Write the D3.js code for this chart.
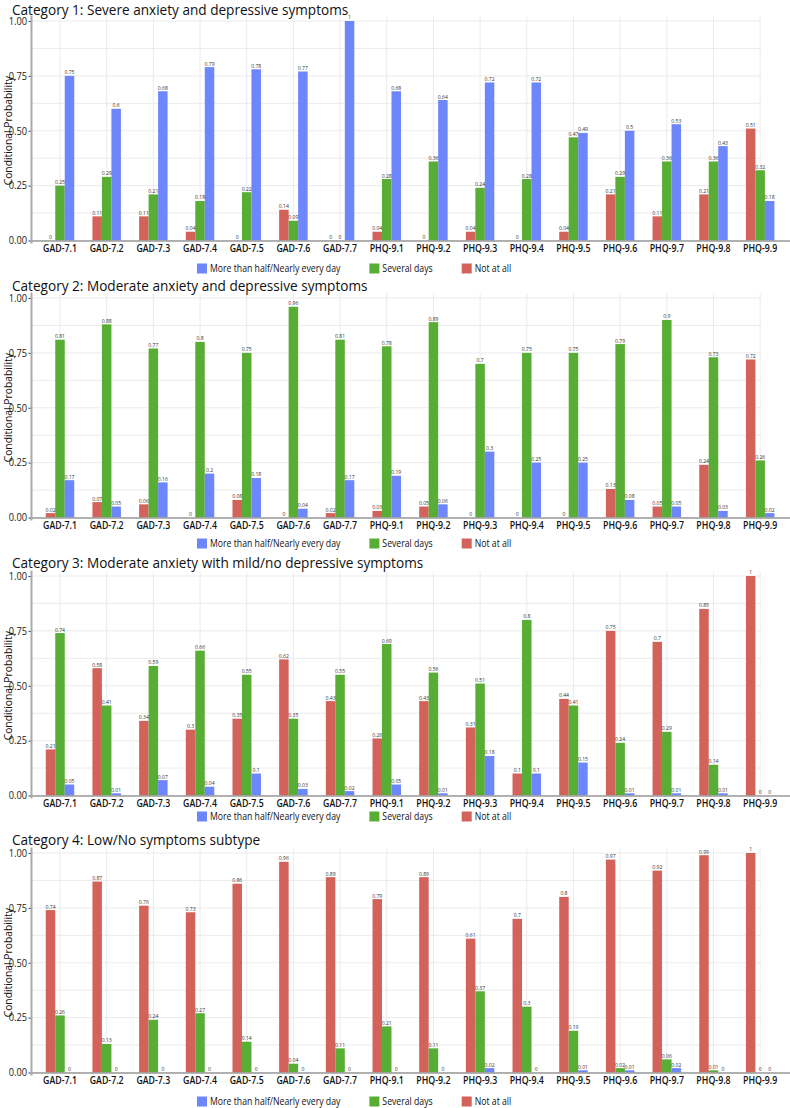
<!DOCTYPE html>
<html>
<head>
<meta charset="utf-8">
<script src="https://cdn.jsdelivr.net/npm/d3@7"></script>
<style>
  body { margin: 0; background: #ffffff; }
  svg { display: block; }
</style>
</head>
<body>
<svg id="chart" width="790" height="1108"></svg>
<script>
// ---------------- data ----------------
const items = ["GAD-7.1","GAD-7.2","GAD-7.3","GAD-7.4","GAD-7.5","GAD-7.6","GAD-7.7",
  "PHQ-9.1","PHQ-9.2","PHQ-9.3","PHQ-9.4","PHQ-9.5","PHQ-9.6","PHQ-9.7","PHQ-9.8","PHQ-9.9"];
const responses = ["Not at all","Several days","More than half/Nearly every day"];
const legendOrder = ["More than half/Nearly every day","Several days","Not at all"];
const panelTitles = [
  "Category 1: Severe anxiety and depressive symptoms",
  "Category 2: Moderate anxiety and depressive symptoms",
  "Category 3: Moderate anxiety with mild/no depressive symptoms",
  "Category 4: Low/No symptoms subtype"
];
const yTicks = [0, 0.25, 0.5, 0.75, 1];
const yMinorTicks = [0.125, 0.375, 0.625, 0.875];
const yTitle = "Conditional Probability";

const cat1NotAtAll     = [0, 0.11, 0.11, 0.04, 0, 0.14, 0, 0.04, 0, 0.04, 0, 0.04, 0.21, 0.11, 0.21, 0.51];
const cat1Several      = [0.25, 0.29, 0.21, 0.18, 0.22, 0.09, 0, 0.28, 0.36, 0.24, 0.28, 0.47, 0.29, 0.36, 0.36, 0.32];
const cat1MoreThanHalf = [0.75, 0.6, 0.68, 0.79, 0.78, 0.77, 1, 0.68, 0.64, 0.72, 0.72, 0.49, 0.5, 0.53, 0.43, 0.18];

const cat2NotAtAll     = [0.02, 0.07, 0.06, 0, 0.08, 0, 0.02, 0.03, 0.05, 0, 0, 0, 0.13, 0.05, 0.24, 0.72];
const cat2Several      = [0.81, 0.88, 0.77, 0.8, 0.75, 0.96, 0.81, 0.78, 0.89, 0.7, 0.75, 0.75, 0.79, 0.9, 0.73, 0.26];
const cat2MoreThanHalf = [0.17, 0.05, 0.16, 0.2, 0.18, 0.04, 0.17, 0.19, 0.06, 0.3, 0.25, 0.25, 0.08, 0.05, 0.03, 0.02];

const cat3NotAtAll     = [0.21, 0.58, 0.34, 0.3, 0.35, 0.62, 0.43, 0.26, 0.43, 0.31, 0.1, 0.44, 0.75, 0.7, 0.85, 1];
const cat3Several      = [0.74, 0.41, 0.59, 0.66, 0.55, 0.35, 0.55, 0.69, 0.56, 0.51, 0.8, 0.41, 0.24, 0.29, 0.14, 0];
const cat3MoreThanHalf = [0.05, 0.01, 0.07, 0.04, 0.1, 0.03, 0.02, 0.05, 0.01, 0.18, 0.1, 0.15, 0.01, 0.01, 0.01, 0];

const cat4NotAtAll     = [0.74, 0.87, 0.76, 0.73, 0.86, 0.96, 0.89, 0.79, 0.89, 0.61, 0.7, 0.8, 0.97, 0.92, 0.99, 1];
const cat4Several      = [0.26, 0.13, 0.24, 0.27, 0.14, 0.04, 0.11, 0.21, 0.11, 0.37, 0.3, 0.19, 0.02, 0.06, 0.01, 0];
const cat4MoreThanHalf = [0, 0, 0, 0, 0, 0, 0, 0, 0, 0.02, 0, 0.01, 0.01, 0.02, 0, 0];

const panelSeries = [
  [cat1NotAtAll, cat1Several, cat1MoreThanHalf],
  [cat2NotAtAll, cat2Several, cat2MoreThanHalf],
  [cat3NotAtAll, cat3Several, cat3MoreThanHalf],
  [cat4NotAtAll, cat4Several, cat4MoreThanHalf]
];

// ---------------- layout / style ----------------
const W = 790;
const axisX = 31.5;
const plotTops = [21, 298, 576, 853];
const plotH = 219.5;
const titleYs = [14.5, 291, 567.5, 844.5];
const legendYs = [268.5, 543.5, 816.5, 1101.5];
const font = "'Open Sans', 'DejaVu Sans', sans-serif";
const colors = { "Not at all": "#d3625b", "Several days": "#58ae34", "More than half/Nearly every day": "#6d86fb" };
const gridColor = "#ebebeb";

function squeeze(sel, c) {
  sel.each(function () {
    const t = d3.select(this);
    const x = +t.attr("x") || 0;
    t.attr("x", x / c).attr("transform", `scale(${c},1)`);
  });
}

const svg = d3.select("#chart");
svg.append("rect").attr("width", W).attr("height", 1108).attr("fill", "#fff");

const x = d3.scaleBand().domain(items).range([36.66, 783.5]).paddingInner(0).paddingOuter(0);
const xInner = d3.scaleBand().domain(responses).range([-x.bandwidth() * 0.305, x.bandwidth() * 0.305]).padding(0);
const gridRight = x(items[items.length - 1]) + x.bandwidth() / 2 + 0.5;

panelSeries.forEach((series, p) => {
  const top = plotTops[p];
  const y = d3.scaleLinear().domain([0, 1]).range([top + plotH, top]);
  const g = svg.append("g");

  // gridlines
  g.append("g").selectAll("line").data(yTicks.concat(yMinorTicks)).join("line")
    .attr("x1", axisX).attr("x2", gridRight)
    .attr("y1", d => y(d)).attr("y2", d => y(d))
    .attr("stroke", gridColor).attr("stroke-width", 1);
  g.append("g").selectAll("line").data(items).join("line")
    .attr("x1", d => x(d) + x.bandwidth() / 2).attr("x2", d => x(d) + x.bandwidth() / 2)
    .attr("y1", y(1.02)).attr("y2", y(0))
    .attr("stroke", gridColor).attr("stroke-width", 1);

  // bars
  const rows = items.map((it, i) => ({ item: it, vals: responses.map((r, k) => ({ r, v: series[k][i] })) }));
  const grp = g.append("g").selectAll("g").data(rows).join("g")
    .attr("transform", d => `translate(${x(d.item) + x.bandwidth() / 2},0)`);
  grp.selectAll("rect").data(d => d.vals).join("rect")
    .attr("x", d => xInner(d.r)).attr("width", xInner.bandwidth())
    .attr("y", d => y(d.v)).attr("height", d => y(0) - y(d.v))
    .attr("fill", d => colors[d.r]);
  const lbl = grp.selectAll("text").data(d => d.vals).join("text")
    .attr("x", d => xInner(d.r) + xInner.bandwidth() / 2)
    .attr("y", d => y(d.v) - 1.5)
    .attr("text-anchor", "middle")
    .attr("font-family", font).attr("font-size", 6).attr("fill", "#333")
    .text(d => String(d.v));
  squeeze(lbl, 0.85);

  // y axis
  const yAxis = d3.axisLeft(y).tickValues(yTicks).tickFormat(d3.format(".2f")).tickSize(3).tickPadding(1.5);
  const ya = g.append("g").attr("transform", `translate(${axisX},0)`).call(yAxis);
  ya.select(".domain").remove();
  ya.selectAll(".tick line").attr("stroke", "#444");
  ya.selectAll(".tick text").attr("font-family", font).attr("font-size", 10.5).attr("fill", "#222");
  squeeze(ya.selectAll(".tick text"), 0.88);

  // x axis
  const xAxis = d3.axisBottom(x).tickSize(0).tickPadding(4);
  const xa = g.append("g").attr("transform", `translate(0,${y(0)})`).call(xAxis);
  xa.select(".domain").remove();
  xa.selectAll(".tick text").attr("font-family", font).attr("font-size", 10)
    .attr("font-weight", 600).attr("fill", "#111");
  squeeze(xa.selectAll(".tick text"), 0.88);

  // axis lines
  g.append("line").attr("x1", axisX).attr("x2", W).attr("y1", y(0) + 0.5).attr("y2", y(0) + 0.5)
    .attr("stroke", "#9a9a9a").attr("stroke-width", 1.5);
  g.append("line").attr("x1", axisX).attr("x2", axisX).attr("y1", y(1.02) - 1).attr("y2", y(0) + 3)
    .attr("stroke", "#a9a9a9").attr("stroke-width", 2);

  // y axis title
  g.append("text")
    .attr("transform", `translate(11.5,${top + plotH / 2}) rotate(-90)`)
    .attr("text-anchor", "middle")
    .attr("font-family", font).attr("font-size", 10.3).attr("fill", "#111")
    .text(yTitle);

  // title
  g.append("text").attr("x", 12).attr("y", titleYs[p])
    .attr("font-family", font).attr("font-size", 13.6).attr("fill", "#111")
    .text(panelTitles[p]);

  // legend
  const ly = legendYs[p];
  let lx = 197;
  legendOrder.forEach(name => {
    g.append("rect").attr("x", lx).attr("y", ly - 5).attr("width", 10).attr("height", 10)
      .attr("fill", colors[name]);
    const t = g.append("text").attr("x", lx + 13).attr("y", ly + 3.6)
      .attr("font-family", font).attr("font-size", 10).attr("fill", "#111")
      .text(name);
    const c = 0.87;
    squeeze(t, c);
    const w = t.node().getComputedTextLength() * c;
    lx = lx + 13 + w + 29;
  });
});
</script>
</body>
</html>
